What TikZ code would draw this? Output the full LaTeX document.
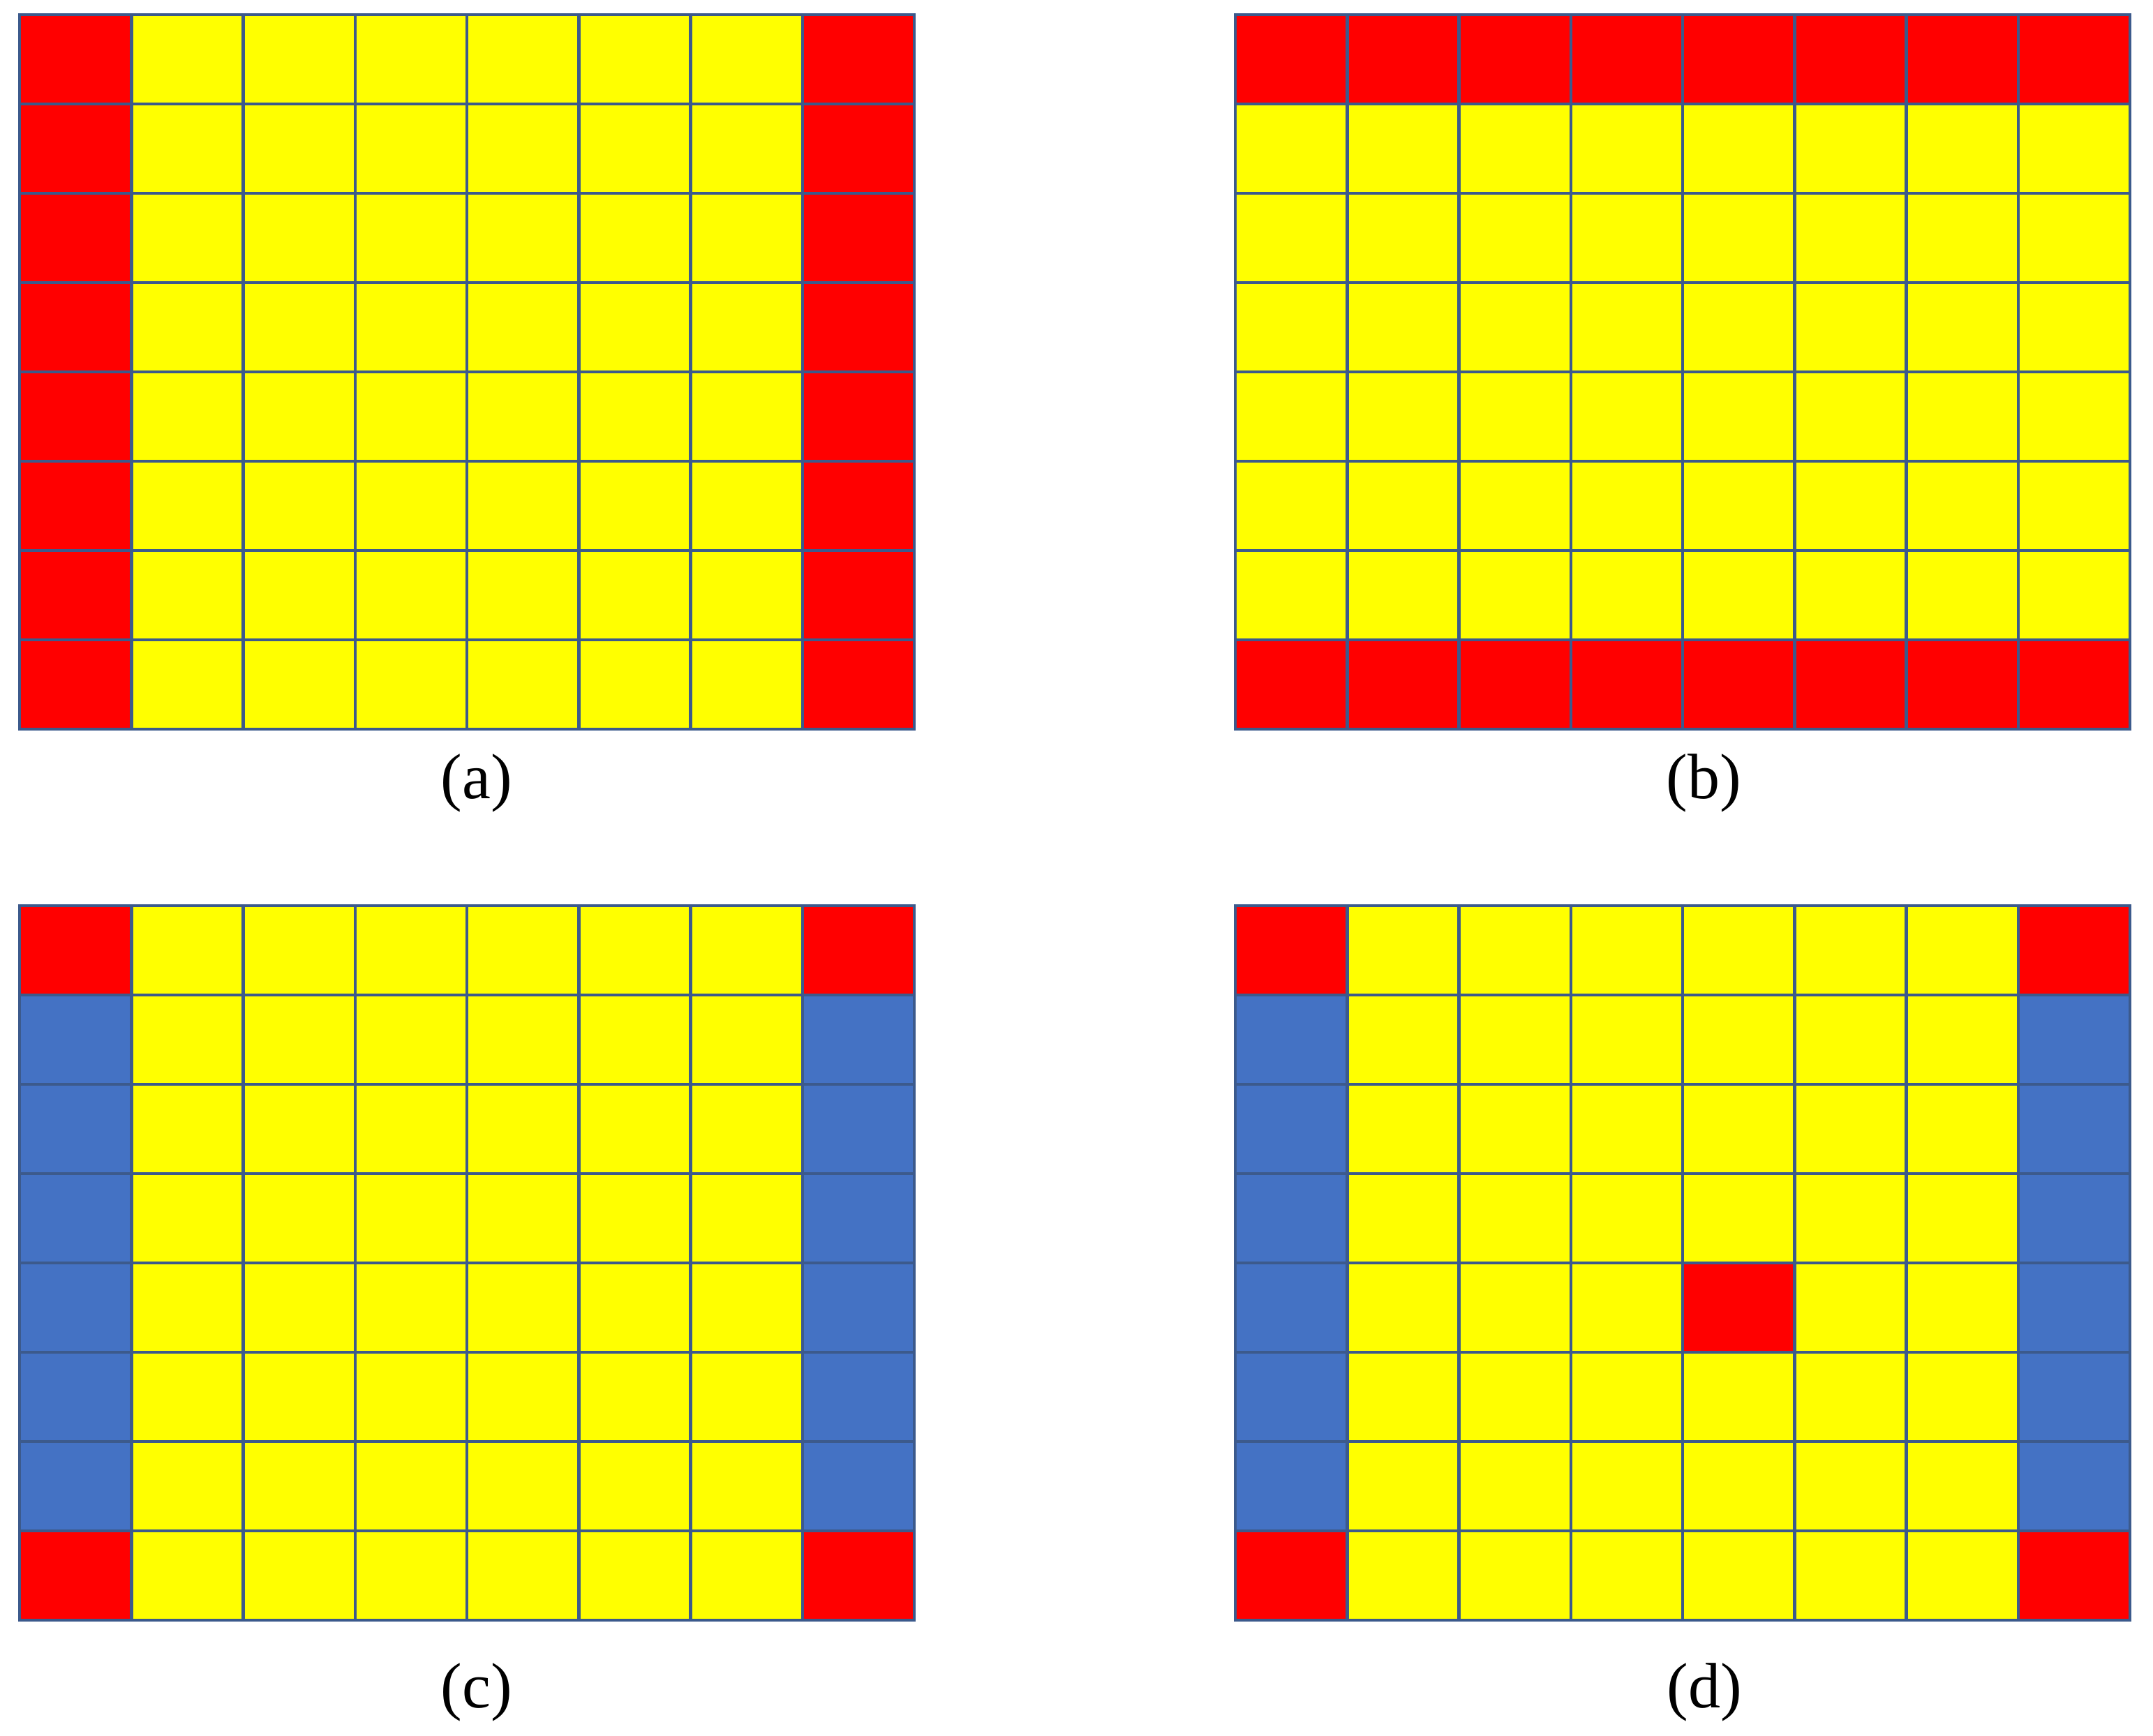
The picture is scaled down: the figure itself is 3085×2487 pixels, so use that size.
\documentclass[tikz,border=0pt]{standalone}
\usepackage{fontspec}
\setmainfont{Liberation Serif}
\definecolor{cred}{RGB}{255,0,0}
\definecolor{cyellow}{RGB}{255,255,0}
\definecolor{cblue}{RGB}{68,114,196}
\definecolor{cline}{RGB}{60,90,140}
\newcommand\mypanel[3]{%
  \begin{scope}[shift={(#1,#2)}]
    \fill[cyellow] (0,0) rectangle (1282,1024);
    #3
    \foreach \i in {1,...,7} \draw[gl] (\i*160.25,0) -- (\i*160.25,1024);
    \foreach \j in {1,...,7} \draw[gl] (0,\j*128) -- (1282,\j*128);
    \draw[gl] (0,0) rectangle (1282,1024);
  \end{scope}}
\newcommand\mycell[3]{\fill[#3] (#1*160.25,#2*128) rectangle ++(160.25,128);}
\begin{document}
\begin{tikzpicture}[x=1pt,y=-1pt,
  gl/.style={draw=cline,line width=4.5pt},
  lbl/.style={font=\fontsize{92}{110}\selectfont,inner sep=0pt}]
\useasboundingbox[fill=white] (0,0) rectangle (3085,2487);
% (a)
\mypanel{28}{21}{%
  \foreach \r in {0,...,7} {\mycell{0}{\r}{cred}\mycell{7}{\r}{cred}}}
% (b)
\mypanel{1770}{21}{%
  \foreach \c in {0,...,7} {\mycell{\c}{0}{cred}\mycell{\c}{7}{cred}}}
% (c)
\mypanel{28}{1298}{%
  \foreach \r in {1,...,6} {\mycell{0}{\r}{cblue}\mycell{7}{\r}{cblue}}
  \mycell{0}{0}{cred}\mycell{7}{0}{cred}\mycell{0}{7}{cred}\mycell{7}{7}{cred}}
% (d)
\mypanel{1770}{1298}{%
  \foreach \r in {1,...,6} {\mycell{0}{\r}{cblue}\mycell{7}{\r}{cblue}}
  \mycell{0}{0}{cred}\mycell{7}{0}{cred}\mycell{0}{7}{cred}\mycell{7}{7}{cred}
  \mycell{4}{4}{cred}}
\node[lbl] (la) at (683,1122) {(a)};
\node[lbl] (lb) at (2441,1122) {(b)};
\node[lbl] (lc) at (683,2425) {(c)};
\node[lbl] (ld) at (2442,2425) {(d)};
\end{tikzpicture}
\end{document}
